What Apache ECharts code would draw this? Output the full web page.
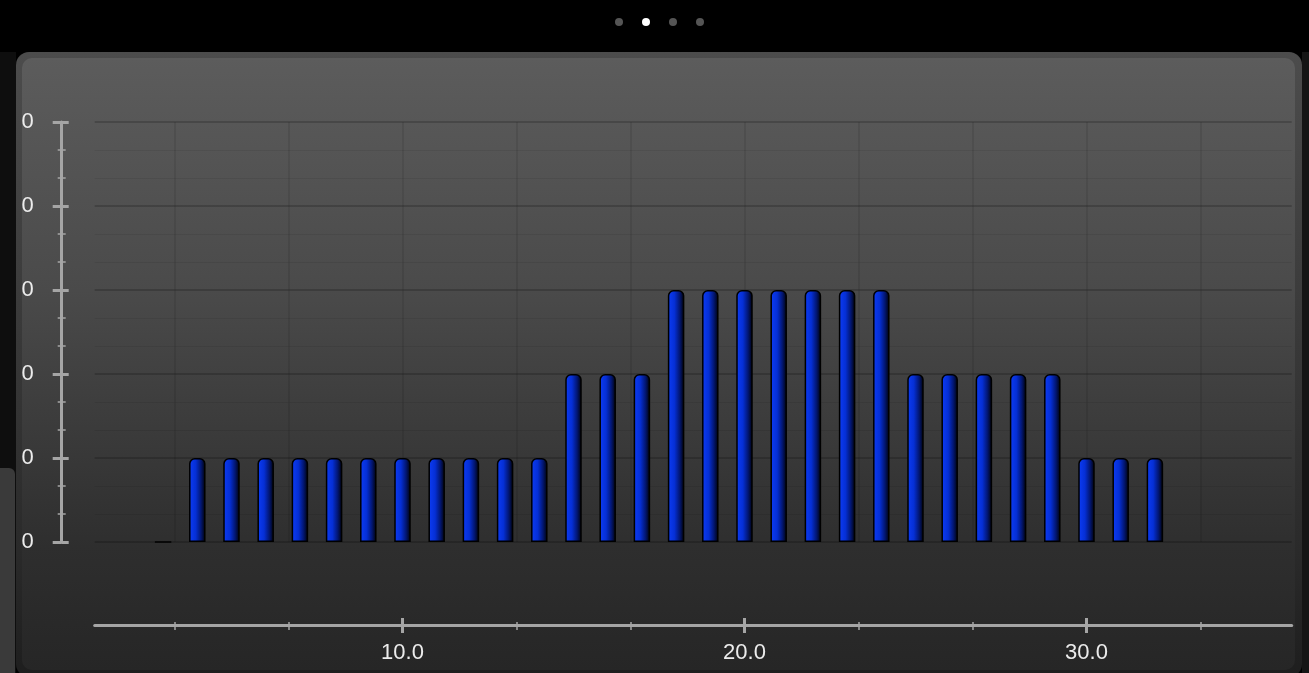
<!DOCTYPE html>
<html>
<head>
<meta charset="utf-8">
<script src="https://cdn.jsdelivr.net/npm/echarts@6/dist/echarts.min.js"></script>
<style>
  html, body { margin:0; padding:0; width:1309px; height:673px; background:#000; overflow:hidden; }
  #leftStrip { position:absolute; left:0; top:52px; width:16px; height:621px; background:#0e0e0e; }
  #leftStrip2 { position:absolute; left:0; top:468px; width:15px; height:205px; background:#3a3a3a; border-top-right-radius:6px; }
  #rightStrip { position:absolute; left:1302px; top:52px; width:7px; height:621px; background:#151515; }
  #frame { position:absolute; left:16px; top:52px; width:1286px; height:625px; border-radius:13px;
           background:linear-gradient(#4c4c4c, #2a2a2a 80%, #1e1e1e); }
  #panel { position:absolute; left:22px; top:58px; width:1273px; height:612px; border-radius:10px;
           background:linear-gradient(#5c5c5c 0%, #4a4a4a 38%, #2e2e2e 80%, #262626 100%); }
  #chart { position:absolute; left:22px; top:58px; width:1274px; height:612px; }
  .dot { position:absolute; top:18px; width:8px; height:8px; border-radius:50%; background:#555; }
</style>
</head>
<body>
<div id="leftStrip"></div>
<div id="leftStrip2"></div>
<div id="rightStrip"></div>
<div class="dot" style="left:615px"></div>
<div class="dot" style="left:642px;background:#fff"></div>
<div class="dot" style="left:669px"></div>
<div class="dot" style="left:696px"></div>
<div id="frame"></div>
<div id="panel"></div>
<div id="chart"></div>
<script>
// ---- data ----
const binCenters = [3, 4, 5, 6, 7, 8, 9, 10, 11, 12, 13, 14, 15, 16, 17, 18, 19, 20, 21, 22, 23, 24, 25, 26, 27, 28, 29, 30, 31, 32];
const counts     = [0, 1, 1, 1, 1, 1, 1, 1, 1, 1, 1, 1, 2, 2, 2, 3, 3, 3, 3, 3, 3, 3, 2, 2, 2, 2, 2, 1, 1, 1];

// ---- axes ----
const xMin = 1, xMax = 36;
const yMin = 0, yMax = 5, yStep = 1;
const xMajorTicks = [10, 20, 30];
const xTickLabels = ['10.0', '20.0', '30.0'];
const xMinorTicks = [10/3, 20/3, 10, 40/3, 50/3, 20, 70/3, 80/3, 30, 100/3];
const yTickLabels = ['0.0', '1.0', '2.0', '3.0', '4.0', '5.0'];

const axisColor = '#a5a5a5';
const labelColor = '#ececec';
const fontFamily = '"Liberation Sans", Arial, Helvetica, sans-serif';

const chart = echarts.init(document.getElementById('chart'), null, { renderer: 'canvas' });

function xAxisBase(extra) {
  return Object.assign({
    type: 'value', gridIndex: 0, min: xMin, max: xMax, position: 'bottom', offset: 83,
    axisLine: { show: false, onZero: false },
    axisTick: { show: false },
    axisLabel: { show: false },
    splitLine: { show: false },
    minorTick: { show: false }, minorSplitLine: { show: false }
  }, extra);
}

const option = {
  animation: false,
  backgroundColor: 'transparent',
  grid: [{ left: 72.7, right: 4.3, top: 64, bottom: 128, outerBoundsMode: 'none', containLabel: false }],
  xAxis: [
    xAxisBase({
      axisLine: { show: true, onZero: false, lineStyle: { color: axisColor, width: 3 } },
      axisTick: { show: true, customValues: xMajorTicks, length: 8, lineStyle: { color: axisColor, width: 3 } },
      axisLabel: {
        show: true, customValues: xMajorTicks, color: labelColor, fontSize: 22, fontFamily: fontFamily, margin: 17,
        formatter: function (v) { const i = xMajorTicks.indexOf(v); return i >= 0 ? xTickLabels[i] : ''; }
      }
    }),
    xAxisBase({
      axisTick: { show: true, inside: true, customValues: xMajorTicks, length: 7, lineStyle: { color: axisColor, width: 3 } }
    }),
    xAxisBase({
      axisTick: { show: true, customValues: xMinorTicks, length: 5, lineStyle: { color: axisColor, width: 1.5 } },
      splitLine: { show: true, lineStyle: { color: 'rgba(0,0,0,0.11)', width: 1.5 } }
    }),
    xAxisBase({
      axisTick: { show: true, inside: true, customValues: xMinorTicks, length: 3, lineStyle: { color: axisColor, width: 1.5 } }
    })
  ],
  yAxis: [
    {
      type: 'value', gridIndex: 0, min: yMin, max: yMax, interval: yStep, position: 'left', offset: 33,
      axisLine: { show: true, onZero: false, lineStyle: { color: axisColor, width: 3 } },
      axisTick: { show: true, length: 9, lineStyle: { color: axisColor, width: 3 } },
      minorTick: { show: true, splitNumber: 3, length: 4, lineStyle: { color: axisColor, width: 1.5 } },
      axisLabel: {
        color: labelColor, fontSize: 22, fontFamily: fontFamily, margin: 28,
        formatter: function (v) { return yTickLabels[Math.round(v)]; }
      },
      splitLine: { show: true, lineStyle: { color: 'rgba(0,0,0,0.24)', width: 1.5 } },
      minorSplitLine: { show: true, lineStyle: { color: 'rgba(0,0,0,0.07)', width: 1 } }
    },
    {
      type: 'value', gridIndex: 0, min: yMin, max: yMax, interval: yStep, position: 'left', offset: 33,
      axisLine: { show: false, onZero: false },
      axisTick: { show: true, inside: true, length: 7, lineStyle: { color: axisColor, width: 3 } },
      minorTick: { show: true, splitNumber: 3, length: 4, lineStyle: { color: axisColor, width: 1.5 } },
      axisLabel: { show: false },
      splitLine: { show: false }
    }
  ],
  series: [{
    type: 'bar',
    xAxisIndex: 0, yAxisIndex: 0,
    barWidth: 16.5,
    data: binCenters.map(function (x, i) { return [x, counts[i]]; }),
    itemStyle: {
      color: new echarts.graphic.LinearGradient(0, 0, 1, 0, [
        { offset: 0, color: '#0d3cf5' },
        { offset: 0.4, color: '#052fd6' },
        { offset: 0.72, color: '#021672' },
        { offset: 1, color: '#000000' }
      ]),
      borderColor: '#000',
      borderWidth: 1.5,
      borderRadius: [5, 5, 0, 0]
    }
  }]
};
chart.setOption(option);
</script>
</body>
</html>
